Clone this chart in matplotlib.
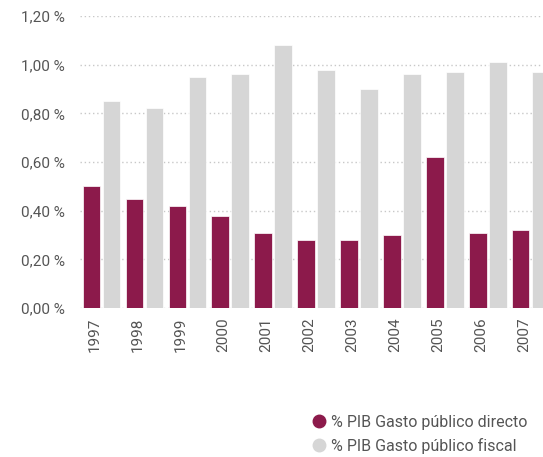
import matplotlib
matplotlib.use("Agg")
import matplotlib.pyplot as plt
from matplotlib.lines import Line2D
import numpy as np

plt.rcParams['font.family'] = ['Roboto', 'DejaVu Sans']

# data
years = ["1997", "1998", "1999", "2000", "2001", "2002", "2003", "2004", "2005", "2006", "2007"]
gasto_directo = [0.50, 0.45, 0.42, 0.38, 0.31, 0.28, 0.28, 0.30, 0.62, 0.31, 0.32]
gasto_fiscal = [0.85, 0.82, 0.95, 0.96, 1.08, 0.98, 0.90, 0.96, 0.97, 1.01, 0.97]

purple = "#8C1A4B"
grey = "#D6D6D6"
text_col = "#555555"

W, H = 543, 457
fig = plt.figure(figsize=(W / 100, H / 100), dpi=100)
ax = fig.add_axes([80 / W, (H - 308) / H, (W - 80) / W, (308 - 16) / H])

x = np.arange(len(years))
bw = 0.41
ax.bar(x, gasto_directo, width=bw, color=purple, edgecolor="white", linewidth=0.5, zorder=3)
ax.bar(x + 0.466, gasto_fiscal, width=bw, color=grey, edgecolor="white", linewidth=0.5, zorder=3)

ax.set_xlim(-0.268, 10.52)
ax.set_ylim(0, 1.2)
yt = np.arange(0, 1.21, 0.2)
ax.set_yticks(yt)
ax.set_yticklabels([("%.2f %%" % v).replace(".", ",") for v in yt])
ax.set_xticks(x + 0.08)
ax.set_xticklabels(years, rotation=90)

ax.tick_params(axis="both", length=0, colors=text_col, labelsize=11)
ax.tick_params(axis="y", pad=11)
ax.tick_params(axis="x", pad=7)
for s in ax.spines.values():
    s.set_visible(False)
ax.grid(axis="y", color="#c8c8c8", linestyle=(0, (1, 2)), linewidth=1, zorder=0)
ax.set_axisbelow(True)

handles = [
    Line2D([], [], marker="o", linestyle="", markersize=9, color=purple),
    Line2D([], [], marker="o", linestyle="", markersize=9, color=grey),
]
fig.legend(handles, ["% PIB Gasto público directo", "% PIB Gasto público fiscal"],
           loc="upper left", bbox_to_anchor=(301 / W, 1 - 407 / H), frameon=False,
           fontsize=11.5, labelcolor=text_col, handletextpad=0.2, labelspacing=0.5,
           borderpad=0, handlelength=1.2)

fig.savefig("out.png", dpi=100)
